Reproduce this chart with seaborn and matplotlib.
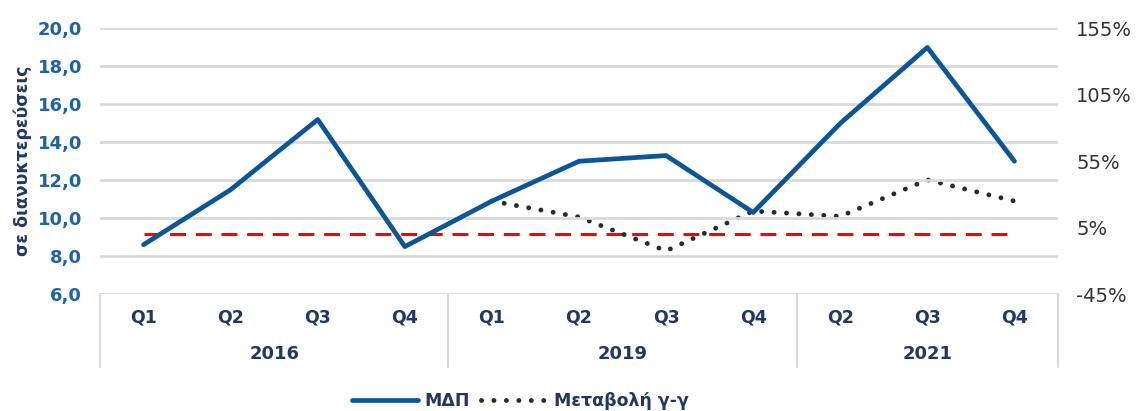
import numpy as np
import pandas as pd
import matplotlib
matplotlib.use("Agg")
import matplotlib.pyplot as plt
import matplotlib.transforms as mtransforms
from matplotlib.lines import Line2D
import seaborn as sns

# data
years = ["2016", "2019", "2021"]
quarters = [["Q1", "Q2", "Q3", "Q4"], ["Q1", "Q2", "Q3", "Q4"], ["Q2", "Q3", "Q4"]]
mdp = [8.6, 11.5, 15.2, 8.5, 10.9, 13.0, 13.3, 10.3, 15.0, 19.0, 13.0]
yoy = [np.nan, np.nan, np.nan, np.nan, 25.0, 13.0, -12.5, 17.5, 13.5, 41.0, 25.0]
ref_line = [0.0] * 11

labels = [q for qs in quarters for q in qs]
df = pd.DataFrame({"pos": np.arange(len(labels)), "q": labels,
                   "mdp": mdp, "yoy": yoy, "ref": ref_line})

sns.set_theme(style="white")
plt.rcParams['font.family'] = ['DejaVu Sans']

blue = "#0c5597"
navy = "#1f3864"
tick_blue = "#1f63a3"

fig = plt.figure(figsize=(11.39, 4.11), dpi=100)
ax = fig.add_axes([100 / 1139, 1 - 294 / 411, 958 / 1139, 265.5 / 411])
ax2 = ax.twinx()

ax.set_ylim(6, 20)
ax.set_yticks(np.arange(6, 20.1, 2))
ax.set_yticklabels([f"{v:.1f}".replace(".", ",") for v in np.arange(6, 20.1, 2)],
                   fontsize=13, fontweight="bold", color=tick_blue)
ax.grid(axis="y", color="#d9d9d9", linewidth=2)
ax.set_xlim(-0.5, len(labels) - 0.5)
ax.set_xticks([])
ax.set_ylabel("σε διανυκτερεύσεις", fontsize=12.5, fontweight="bold", color=navy, labelpad=4)
ax.tick_params(axis="y", length=0, pad=13)

ax2.set_ylim(-45, 155)
ax2.set_yticks(np.arange(-45, 156, 50))
ax2.set_yticklabels([f"{v}%" for v in np.arange(-45, 156, 50)], fontsize=14, color="#333333")
ax2.tick_params(axis="y", length=0, pad=13)
ax2.grid(False)

for a in (ax, ax2):
    for s in a.spines.values():
        s.set_visible(False)

sns.lineplot(data=df, x="pos", y="ref", ax=ax2, color="#ff0000", linewidth=2.2,
             legend=False, zorder=2).lines[-1].set_dashes((5.2, 3.2))
sns.lineplot(data=df, x="pos", y="mdp", ax=ax, color=blue, linewidth=3.4, zorder=3)
l_yoy = sns.lineplot(data=df, x="pos", y="yoy", ax=ax2, color="#262b33", linewidth=3.5,
                     zorder=4).lines[-1]
l_yoy.set_dashes((0.01, 2.55))
l_yoy.set_dash_capstyle("round")
ax.set_xlabel("")
ax2.set_xlabel("")
ax2.set_ylabel("")
ax.set_zorder(ax2.get_zorder() + 1)
ax.patch.set_visible(False)

# grouped category axis
trans = mtransforms.blended_transform_factory(ax.transData, ax.transAxes)
for i, q in enumerate(labels):
    ax.text(i, -0.09, q, transform=trans, ha="center", va="center",
            fontsize=12.5, fontweight="bold", color=navy)
start = 0
bounds = [-0.5]
for y, qs in zip(years, quarters):
    mid = start + (len(qs) - 1) / 2
    ax.text(mid, -0.226, y, transform=trans, ha="center", va="center",
            fontsize=13, fontweight="bold", color=navy)
    start += len(qs)
    bounds.append(start - 0.5)
for b in bounds:
    ax.plot([b, b], [0, -0.275], transform=trans, color="#d9d9d9", lw=1.5, clip_on=False)

# legend
h1 = Line2D([], [], color=blue, lw=3.4, solid_capstyle="round")
h2 = Line2D([], [], color="#262b33", lw=3.5, dashes=(0.01, 2.55), dash_capstyle="round")
fig.legend([h1, h2], ["ΜΔΠ", "Μεταβολή γ-γ"], loc="center", bbox_to_anchor=(520 / 1139, 1 - 401 / 411),
           ncol=2, frameon=False, handlelength=3.8, handletextpad=0.4, columnspacing=0.6,
           prop={"size": 12.5, "weight": "bold"}, labelcolor=navy)

fig.savefig("out.png", dpi=100)
